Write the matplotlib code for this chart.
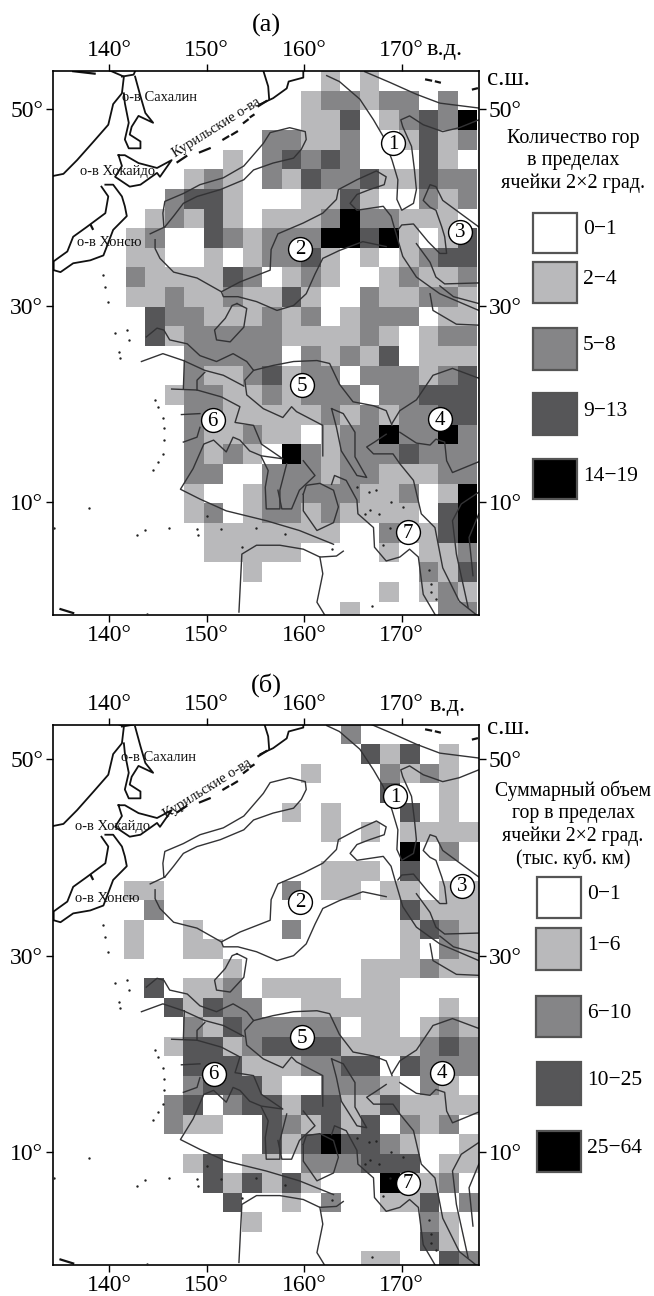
import numpy as np
import matplotlib
matplotlib.use("Agg")
import matplotlib.pyplot as plt
from matplotlib.colors import ListedColormap
from matplotlib.patches import Rectangle

plt.rcParams['font.family'] = ['Liberation Serif', 'DejaVu Serif']

# class of every 2x2 cell, north to south, columns 142..176 E
count_rows = [
    "000000000010100000", "000000000122122020", "000000000113012324", "000000022112001312",
    "000001023232000310", "000121021322311322", "002331000113100212", "012131011124221110",
    "120032122244341013", "110010122310101233", "211113201210012112", "112112113100211221",
    "032211121201222011", "031222221111210122", "000222220212130111", "000211231220222123",
    "001221121222022333", "000221111121212233", "000211211012242242", "000212104212223222",
    "000220022212211122", "000100122222112014", "000120122121111034", "000011111110021134",
    "000011111000010112", "000000100000000213", "000000000000010121", "000000000001000022",
]
volume_rows = [
    "000000000002000000", "000000000000313010", "000000000100021210", "000000000000030010",
    "000000001010003010", "000000000010101111", "000000000000004020", "000000000011103000",
    "110000002011011011", "020000000000003111", "100100002000001321", "100110000000001021",
    "000001000000111211", "030112011110110000", "003132200111110010", "000213222220110121",
    "001331233331111232", "000333111223303222", "000233310022210210", "002302331331131111",
    "002110032131302120", "000000031343321001", "000130110222333011", "000031313100041120",
    "000003001020011302", "000000100000000210", "000000000000000310", "000000000000110032",
]
cell_colors = ['#ffffff', '#b9b9bb', '#858587', '#565658', '#000000']
count_labels = ['0\u22121', '2\u22124', '5\u22128', '9\u221213', '14\u221219']
volume_labels = ['0\u22121', '1\u22126', '6\u221210', '10\u221225', '25\u221264']

lon_ticks = [140, 150, 160, 170]
lat_ticks = [10, 30, 50]

# coast lines (lon, lat)
coast = [
    [(134.3,43.2),(135.3,43.4),(136.7,44.8),(138.4,46.7),(139.9,48.4),(140.4,50.5),(141.3,51.6),(141.5,53.3),(140.1,53.9)],
    [(141.3,53.3),(142.5,53.5),(142.65,53.85)],
    [(142.65,53.3),(143.2,51.3),(143.7,49.6),(144.5,48.6),(143.0,49.3),(142.3,48.2),(142.1,47.4),(143.2,46.7),(143.2,46.0),(142.0,46.0),(141.6,46.9),(142.0,48.6),(141.6,50.6),(141.5,51.6)],
    [(140.95,45.3),(141.6,45.3),(143.0,44.5),(144.9,44.0),(146.4,44.8),(145.2,43.1),(144.9,43.5),(143.2,42.3),(142.1,42.1),(140.6,43.1),(141.3,44.2),(140.95,45.3)],
    [(139.6,42.3),(140.4,42.3),(141.3,41.1),(141.6,40.1),(141.8,39.1),(140.4,37.7),(139.75,36.0),(139.4,35.1),(138.05,34.6),(136.3,34.3),(135.0,33.4),(134.3,33.6),(134.3,34.5),(135.7,35.5),(136.3,37.0),(137.7,38.0),(139.6,39.4),(139.9,41.1),(139.2,42.1)],
    [(155.8,53.9),(156.3,52.3),(156.4,51.0)],
    [(159.9,53.8),(159.9,53.2),(158.4,52.8),(158.2,52.1),(156.8,51.1),(155.5,50.5)],
]
islands = [
    [(147.0,44.6),(147.9,45.2)], [(149.3,45.6),(150.3,46.0)], [(151.7,46.9),(152.2,47.2)], [(152.6,47.4),(153.1,47.7)],
    [(153.8,48.6),(154.2,48.9)], [(154.5,49.2),(154.8,49.4)], [(155.3,50.3),(156.1,50.8)], [(172.5,53.0),(173.0,52.9)],
    [(173.5,52.8),(173.9,52.7)], [(177.3,52.0),(177.7,52.1)], [(135.0,-0.9),(136.3,-1.3)], [(136.3,53.85),(138.5,53.6)],
    [(138.1,38.2),(138.3,37.8)],
]
dots = [
    (144.7,20.4),(145.0,19.7),(145.5,18.6),(145.6,17.5),(145.6,16.3),(145.5,14.9),(145.0,14.1),(144.5,13.3),
    (141.8,27.5),(142.0,26.5),(141.0,25.3),(141.1,24.7),(140.6,27.2),(137.9,9.4),(134.3,7.4),(143.7,7.2),
    (142.8,6.6),(146.1,7.4),(149.0,7.3),(149.1,6.6),(165.4,11.5),(166.6,11.0),(167.4,11.2),(168.9,10.0),
    (170.1,9.5),(166.7,9.2),(167.7,8.8),(166.2,8.8),(168.8,7.4),(168.1,5.6),(172.8,3.1),(173.0,1.7),
    (173.0,0.8),(173.5,0.1),(150.0,8.6),(151.5,7.3),(155.1,7.4),(158.0,6.7),(162.8,5.2),(153.6,5.4),
    (166.9,-0.6),(139.4,33.1),(139.6,31.9),(139.9,30.4),(143.9,-1.4),
]
# province outlines (lon, lat)
outlines = [
    [(144.2,37.3),(145.7,38.0)],
    [(145.6,38.0),(145.5,39.4),(145.7,40.6),(147.6,41.4),(149.3,42.3),(151.7,43.0),(153.8,44.2),(155.8,46.5),(156.5,47.6),(158.5,48.1),(160.1,47.7),(160.2,46.9),(159.7,45.9),(158.9,45.0),(156.8,44.5),(154.8,43.8),(153.8,42.8),(151.4,41.8),(149.0,41.1),(147.6,40.4),(146.6,39.1),(145.7,38.0)],
    [(144.7,36.7),(144.7,35.8),(145.2,34.8),(146.6,33.4),(149.0,32.8),(151.5,31.4),(153.4,32.4),(156.5,33.6),(156.6,35.7),(157.3,37.3),(159.9,38.4),(161.9,39.4),(163.3,40.8),(163.5,41.8),(165.4,42.8),(167.4,43.7),(168.4,43.1),(168.2,42.3),(166.7,41.8),(165.4,41.3),(164.7,40.4),(165.4,39.7),(168.1,40.1),(168.9,39.1),(169.3,37.7),(170.1,35.0),(171.5,32.9),(172.9,31.9),(173.9,31.2),(177.9,29.5)],
    [(168.4,36.0),(166.0,36.5),(163.6,35.6),(161.9,34.8),(161.1,33.2),(160.2,31.2),(158.9,30.0),(157.2,29.5),(155.1,30.4),(153.2,30.9),(151.7,30.9),(151.5,31.4)],
    [(162.3,53.4),(163.6,52.8),(165.7,51.0),(167.1,48.9),(168.1,47.2),(169.0,44.8),(169.6,42.8),(169.5,40.8),(170.0,39.7),(171.2,40.4),(171.5,41.8),(171.3,43.8),(171.0,46.2),(170.1,48.2),(169.9,48.9),(170.8,49.3),(172.2,48.4),(174.2,47.7),(175.9,48.1),(177.9,48.9)],
    [(166.2,53.8),(168.8,52.7),(171.5,51.5),(173.9,50.6),(177.9,50.1)],
    [(169.6,37.7),(170.0,38.2),(171.2,38.3),(172.7,36.5),(173.9,35.3),(174.6,35.3),(174.4,37.0),(174.1,38.0),(173.5,39.7),(172.9,40.0),(172.2,40.7),(172.9,42.3),(173.5,42.1),(174.2,40.7),(177.9,38.0)],
    [(171.5,36.3),(172.9,34.4),(173.5,32.9),(174.4,32.2),(177.9,32.3)],
    [(173.9,32.0),(175.3,30.9),(177.9,30.2)],
    [(172.9,31.2),(173.2,29.5),(175.6,28.1),(177.9,28.0)],
    [(153.1,30.2),(154.1,29.7),(153.8,27.8),(152.4,26.3),(151.0,26.5),(150.8,27.5),(151.9,28.7),(152.6,30.0),(153.1,30.2)],
    [(143.8,26.8),(144.9,27.7),(145.6,27.5),(146.2,26.5),(148.0,26.1),(149.3,24.9),(151.0,24.3),(152.7,25.1),(154.1,24.3),(154.8,23.4),(156.8,23.9),(158.9,24.3),(161.3,24.4),(162.6,24.1),(163.6,22.0),(165.0,20.2),(167.1,19.8),(168.4,19.3),(169.0,17.8)],
    [(169.0,18.0),(169.8,19.3),(171.5,20.4),(173.2,22.9),(175.2,23.6),(177.9,22.6)],
    [(143.3,24.3),(145.5,25.1),(147.6,24.4),(149.8,23.4),(151.7,22.9),(153.8,21.8)],
    [(154.8,23.4),(153.9,22.4),(154.1,20.9),(155.8,19.5),(157.8,18.6),(158.7,19.7),(159.2,19.2),(161.9,17.8),(161.9,14.7)],
    [(147.7,24.4),(147.6,21.5)],
    [(146.4,21.5),(149.0,21.4),(151.5,20.7),(153.4,19.7),(152.9,18.1),(154.8,17.8),(155.6,15.9),(157.8,14.4),(155.6,14.7),(154.4,15.2),(153.4,16.3),(152.7,16.6),(152.0,15.1),(150.7,16.3),(149.7,15.9),(148.6,13.4),(147.3,11.3),(149.3,10.3),(152.0,9.1),(156.1,8.1),(159.5,7.1),(163.0,5.7)],
    [(149.0,21.4),(149.0,22.4),(149.8,23.2)],
    [(147.4,18.9),(149.3,19.0)],
    [(147.6,16.1),(149.0,16.6),(149.3,17.6)],
    [(158.2,13.9),(157.5,11.2),(157.5,9.3),(156.1,9.3),(156.0,11.5),(156.3,13.2),(155.6,14.6)],
    [(159.9,14.2),(161.1,12.7),(159.5,11.2),(158.7,9.3),(157.7,9.3),(157.3,11.2)],
    [(159.9,10.8),(159.9,9.1),(161.3,7.1),(163.0,7.9),(163.5,9.5),(163.0,11.2),(161.6,11.9),(160.2,11.7),(159.9,10.8)],
    [(162.8,19.5),(164.0,19.0),(165.2,17.1),(165.2,14.6),(166.4,12.5),(165.4,12.7),(163.8,15.2),(163.3,17.6),(162.8,19.5)],
    [(162.8,11.8),(163.1,12.7),(164.3,12.2),(165.4,10.2),(165.5,8.8),(167.1,7.4),(167.2,5.4),(168.4,4.0),(169.8,4.4),(170.8,5.2),(171.7,4.4),(172.2,0.6),(173.5,-1.6)],
    [(168.4,16.9),(167.2,16.1),(166.4,15.6),(167.1,14.9),(169.1,14.9),(169.8,13.9),(171.2,12.2),(172.0,8.8),(173.4,7.4),(174.2,3.3),(175.9,-0.1),(177.8,-1.6)],
    [(169.8,17.1),(171.5,16.0),(172.9,15.8),(173.5,16.4),(174.4,16.1),(174.6,14.2),(175.2,13.0),(177.9,14.1)],
    [(153.3,-1.2),(153.6,4.7),(155.1,5.6),(157.5,5.6),(159.9,5.2),(161.6,4.4),(163.3,4.5),(164.0,5.0)],
    [(161.6,4.4),(161.9,2.7),(161.3,-0.2),(162.1,-1.5)],
    [(177.9,11.0),(176.1,9.8),(175.2,8.1),(175.6,4.7),(176.8,-0.7)],
    [(177.9,8.8),(176.9,6.4),(177.3,2.5)],
]

# numbered circles, 1..7
circles_a = [(169.1,46.5),(159.6,35.8),(176.0,37.5),(173.95,18.4),(159.8,21.9),(150.6,18.3),(170.6,6.9)]
circles_b = [(169.3,46.2),(159.6,35.5),(176.2,37.1),(174.1,18.1),(159.8,21.7),(150.7,18.0),(170.6,6.9)]

names_a = [("о-в Сахалин",145.2,51.2,0),("о-в Хокайдо",140.85,43.6,0),("о-в Хонсю",140.0,36.4,0),("Курильские о-ва",151.0,48.1,32)]
names_b = [("о-в Сахалин",145.05,50.2,0),("о-в Хокайдо",140.3,43.1,0),("о-в Хонсю",139.8,35.8,0),("Курильские о-ва",150.1,47.0,32)]

W, H = 654, 1296
fig = plt.figure(figsize=(W/100, H/100), dpi=100)


def make_axes(left, top, right, bottom):
    return fig.add_axes([left/W, 1-bottom/H, (right-left)/W, (bottom-top)/H])


def panel(ax, rows, lon0, dlon, lat_top, dlat, lat_bottom, circles, names):
    grid = np.array([[int(c) for c in r] for r in rows])
    xe = lon0 + dlon*np.arange(grid.shape[1]+1)
    ye = lat_top - dlat*np.arange(grid.shape[0]+1)
    ax.pcolormesh(xe, ye, grid, cmap=ListedColormap(cell_colors), vmin=-0.5, vmax=4.5, antialiased=False)
    for line in outlines:
        p = np.array(line)
        ax.plot(p[:,0], p[:,1], color='#333335', lw=1.0, solid_joinstyle='round')
    for line in coast:
        p = np.array(line)
        ax.plot(p[:,0], p[:,1], color='#111111', lw=1.3)
    for line in islands:
        p = np.array(line)
        ax.plot(p[:,0], p[:,1], color='#111111', lw=1.6)
    d = np.array(dots)
    ax.scatter(d[:,0], d[:,1], s=3, color='#222222', lw=0, zorder=3)
    for i, (x, y) in enumerate(circles):
        ax.scatter([x], [y], s=295, facecolor='white', edgecolor='black', lw=1.0, zorder=5)
        ax.text(x, y-0.1, str(i+1), ha='center', va='center', fontsize=15, zorder=6)
    for t, x, y, r in names:
        ax.text(x, y, t, ha='center', va='center', rotation=r, fontsize=10.5, color='#111111', zorder=4)
    ax.set_xlim(134.2, 177.95)
    ax.set_ylim(lat_bottom, lat_top)
    ax.set_xticks(lon_ticks)
    ax.set_xticklabels(['%d°' % v for v in lon_ticks], fontsize=17)
    ax.set_yticks(lat_ticks)
    ax.set_yticklabels(['%d°' % v for v in lat_ticks], fontsize=17)
    ax.tick_params(top=True, right=True, labeltop=True, labelright=True, length=5, width=1, pad=2)
    for s in ax.spines.values():
        s.set_linewidth(1.2)


def legend(title, title_y, size, labels, boxes, edge):
    fig.text(573/W, 1-title_y/H, title, ha='center', va='center', fontsize=size, linespacing=1.2)
    for lab, col, (x0, y0, x1, y1) in zip(labels, cell_colors, boxes):
        fig.add_artist(Rectangle((x0/W, 1-y1/H), (x1-x0)/W, (y1-y0)/H, transform=fig.transFigure,
                                 facecolor=col, edgecolor=edge, lw=1.6))
        fig.text((x1+6)/W, 1-((y0+y1)/2-3)/H, lab, ha='left', va='center', fontsize=15.5)


ax_a = make_axes(52.7, 71, 479.3, 615)
panel(ax_a, count_rows, 141.67, 2.003, 53.87, 2.0, -1.5, circles_a, names_a)
ax_b = make_axes(52.7, 725, 479.3, 1265)
panel(ax_b, volume_rows, 141.53, 2.02, 53.46, 1.983, -1.46, circles_b, names_b)

fig.text(266/W, 1-25/H, '(а)', ha='center', va='center', fontsize=19)
fig.text(266/W, 1-685/H, '(б)', ha='center', va='center', fontsize=19)
fig.text(445/W, 1-50/H, 'в.д.', ha='center', va='center', fontsize=17.5)
fig.text(448/W, 1-705/H, 'в.д.', ha='center', va='center', fontsize=17.5)
fig.text(508/W, 1-79/H, 'с.ш.', ha='center', va='center', fontsize=18)
fig.text(508/W, 1-728/H, 'с.ш.', ha='center', va='center', fontsize=18)

legend('Количество гор\nв пределах\nячейки 2×2 град.', 161, 14.5, count_labels,
       [(533,213,577,253),(533,262,577,303),(533,328,577,370),(533,393,577,435),(533,459,577,499)], '#555555')
legend('Суммарный объем\nгор в пределах\nячейки 2×2 град.\n(тыс. куб. км)', 825, 14.2, volume_labels,
       [(537,877,581,918),(536,928,581,970),(536,996,581,1037),(537,1062,581,1105),(537,1131,581,1172)], '#555555')

plt.savefig("out.png", dpi=100)
